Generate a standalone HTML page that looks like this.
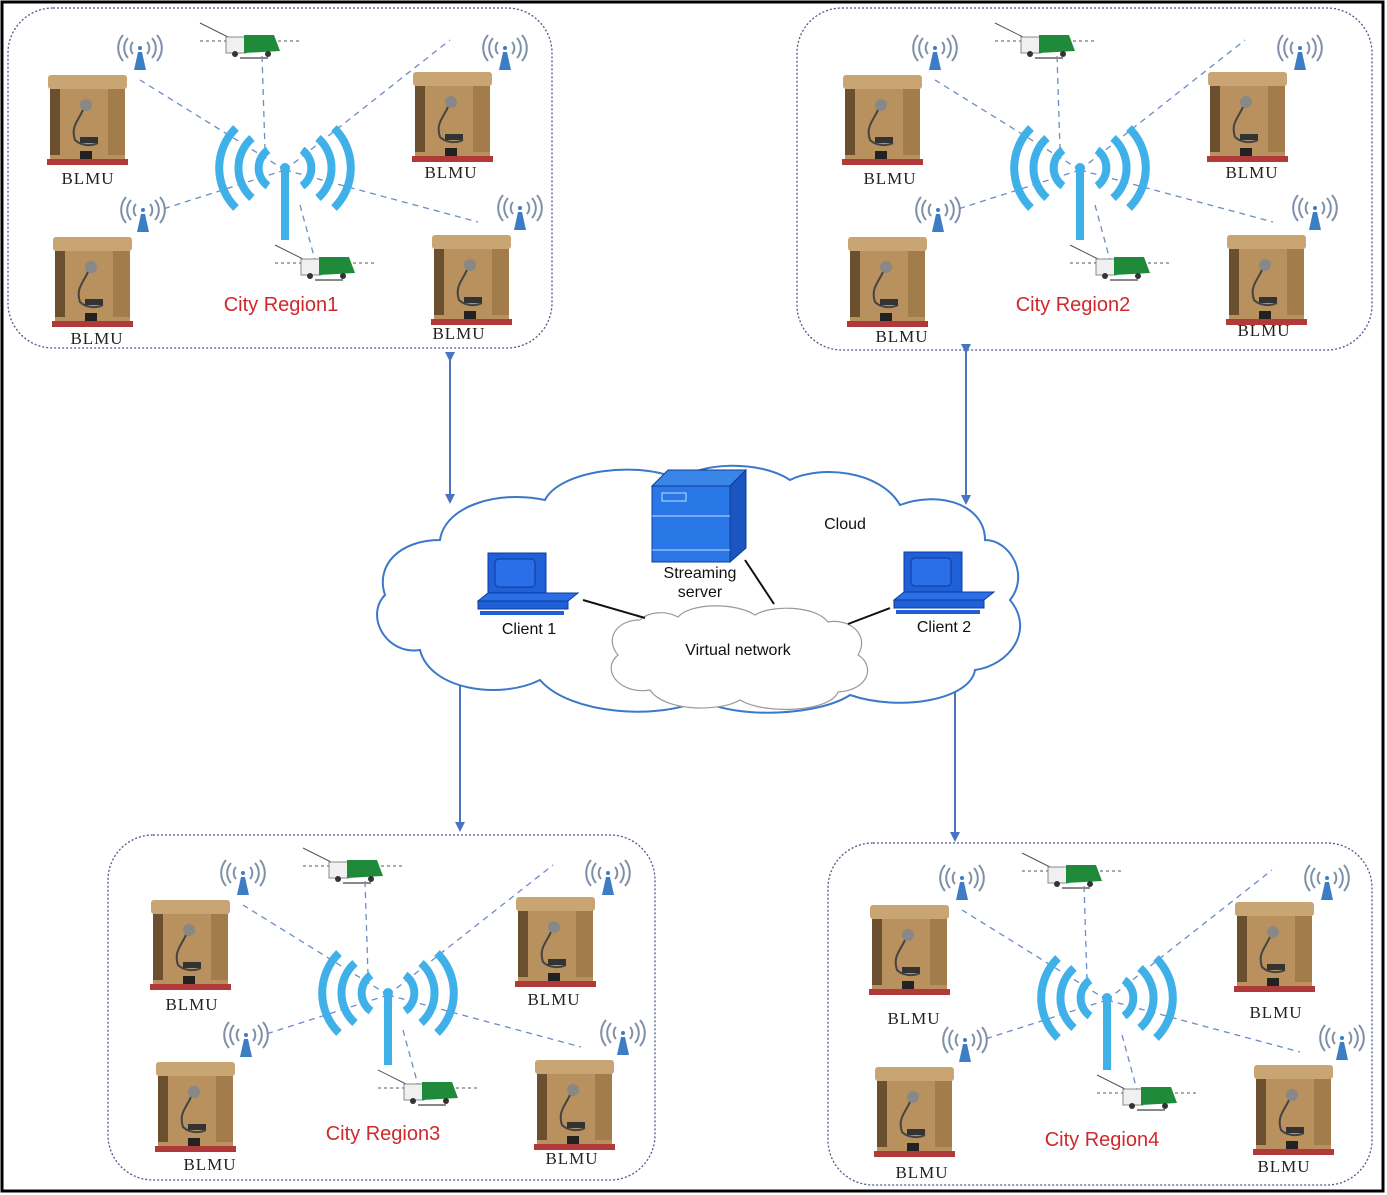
<!DOCTYPE html>
<html><head><meta charset="utf-8"><style>
html,body{margin:0;padding:0;background:#fff;}
svg{display:block;}
text{font-family:"Liberation Serif",serif;}
.lbl{font-family:"Liberation Serif",serif;font-size:17px;fill:#222;letter-spacing:1px;}
.reg{font-family:"Liberation Sans",sans-serif;font-size:20px;fill:#d0282c;}
.cl{font-family:"Liberation Sans",sans-serif;font-size:16px;fill:#111;}
</style></head><body>
<svg width="1387" height="1195" viewBox="0 0 1387 1195" xmlns="http://www.w3.org/2000/svg">
<defs>
  <marker id="ah" markerWidth="10" markerHeight="10" refX="8" refY="5" orient="auto" markerUnits="userSpaceOnUse">
    <path d="M0,0 L10,5 L0,10 z" fill="#4a74c0"/>
  </marker>
  <g id="bin">
    <rect x="0" y="8" width="75" height="76" fill="#b8915e"/>
    <rect x="-2" y="0" width="79" height="14" rx="3" fill="#c9a574"/>
    <rect x="0" y="14" width="10" height="66" fill="#6b5030"/>
    <rect x="58" y="14" width="17" height="66" fill="#a37c4c"/>
    <path d="M35,30 C30,45 20,50 25,65 C30,70 40,72 48,68" stroke="#444" stroke-width="2" fill="none"/>
    <circle cx="36" cy="30" r="6" fill="#888"/>
    <rect x="30" y="62" width="18" height="6" fill="#333"/>
    <rect x="30" y="76" width="12" height="8" fill="#222"/>
    <rect x="-3" y="84" width="81" height="6" fill="#b03a3a"/>
  </g>
  <g id="ant">
    <path d="M-6,12 L6,12 L2,-6 L-2,-6 z" fill="#3d7dc4"/>
    <circle cx="0" cy="-10" r="2" fill="#3d7dc4"/>
    <path d="M-7,-16 A9,9 0 0 0 -7,-4 M7,-16 A9,9 0 0 1 7,-4 M-12,-20 A15,15 0 0 0 -12,0 M12,-20 A15,15 0 0 1 12,0 M-17,-23 A20,20 0 0 0 -17,3 M17,-23 A20,20 0 0 1 17,3" stroke="#7e8fa8" stroke-width="2" fill="none"/>
  </g>
  <g id="truck">
    <line x1="-40" y1="-20" x2="-10" y2="-5" stroke="#555"/>
    <line x1="-40" y1="-2" x2="60" y2="-2" stroke="#555" stroke-dasharray="3,3"/>
    <rect x="-14" y="-6" width="20" height="16" fill="#f0f0f0" stroke="#888"/>
    <path d="M4,-8 L34,-8 L40,8 L4,10 z" fill="#1f8a3a"/>
    <circle cx="-5" cy="11" r="3" fill="#333"/><circle cx="28" cy="11" r="3" fill="#333"/>
    <rect x="0" y="14" width="28" height="2" fill="#888"/>
  </g>
  <g id="region">
    <g stroke="#6b8cc4" stroke-width="1.3" stroke-dasharray="6,5" fill="none">
      <line x1="285" y1="170" x2="140" y2="80"/>
      <line x1="285" y1="170" x2="450" y2="40"/>
      <line x1="285" y1="170" x2="160" y2="210"/>
      <line x1="285" y1="170" x2="478" y2="222"/>
      <line x1="265" y1="150" x2="262" y2="55"/>
      <line x1="300" y1="205" x2="315" y2="260"/>
    </g>
    <use href="#bin" x="50" y="75"/>
    <use href="#bin" x="415" y="72"/>
    <use href="#bin" x="55" y="237"/>
    <use href="#bin" x="434" y="235"/>
    <use href="#ant" x="140" y="58"/>
    <use href="#ant" x="505" y="58"/>
    <use href="#ant" x="143" y="220"/>
    <use href="#ant" x="520" y="218"/>
    <use href="#truck" x="240" y="43"/>
    <use href="#truck" x="315" y="265"/>
    <rect x="281" y="170" width="8" height="70" fill="#3fb0e8"/>
    <circle cx="285" cy="168" r="5" fill="#3fb0e8"/>
    <g stroke="#3fb0e8" stroke-width="8" fill="none">
      <path d="M268,150 A22,22 0 0 0 268,186"/>
      <path d="M302,150 A22,22 0 0 1 302,186"/>
      <path d="M252,138 A40,40 0 0 0 252,198"/>
      <path d="M318,138 A40,40 0 0 1 318,198"/>
      <path d="M236,128 A56,56 0 0 0 236,208"/>
      <path d="M334,128 A56,56 0 0 1 334,208"/>
    </g>
  </g>
  <g id="pc">
    <rect x="10" y="0" width="58" height="40" fill="#1f5fd8" stroke="#0d3c9a"/>
    <rect x="17" y="6" width="40" height="28" rx="4" fill="#2a6ee8" stroke="#0d3c9a"/>
    <path d="M0,48 L90,48 L100,40 L10,40 z" fill="#2a6ee8" stroke="#0d3c9a"/>
    <rect x="0" y="48" width="90" height="8" fill="#1f5fd8" stroke="#0d3c9a"/>
    <rect x="2" y="58" width="84" height="4" fill="#1f5fd8"/>
  </g>
</defs>

<rect x="2" y="2" width="1381" height="1189" fill="#fff" stroke="#000" stroke-width="3"/>

<!-- region boxes -->
<g fill="none" stroke="#4a5a8a" stroke-width="1.3" stroke-dasharray="2,2">
  <rect x="8" y="8" width="544" height="340" rx="45"/>
  <rect x="797" y="8" width="575" height="342" rx="45"/>
  <rect x="108" y="835" width="547" height="345" rx="45"/>
  <rect x="828" y="843" width="544" height="342" rx="45"/>
</g>

<use href="#region"/>
<use href="#region" transform="translate(795,0)"/>
<use href="#region" transform="translate(103,825)"/>
<use href="#region" transform="translate(822,830)"/>

<!-- labels -->
<text class="lbl" x="88" y="184" text-anchor="middle">BLMU</text>
<text class="lbl" x="451" y="178" text-anchor="middle">BLMU</text>
<text class="lbl" x="97" y="344" text-anchor="middle">BLMU</text>
<text class="lbl" x="459" y="339" text-anchor="middle">BLMU</text>
<text class="reg" x="281" y="311" text-anchor="middle">City Region1</text>

<text class="lbl" x="890" y="184" text-anchor="middle">BLMU</text>
<text class="lbl" x="1252" y="178" text-anchor="middle">BLMU</text>
<text class="lbl" x="902" y="342" text-anchor="middle">BLMU</text>
<text class="lbl" x="1264" y="336" text-anchor="middle">BLMU</text>
<text class="reg" x="1073" y="311" text-anchor="middle">City Region2</text>

<text class="lbl" x="192" y="1010" text-anchor="middle">BLMU</text>
<text class="lbl" x="554" y="1005" text-anchor="middle">BLMU</text>
<text class="lbl" x="210" y="1170" text-anchor="middle">BLMU</text>
<text class="lbl" x="572" y="1164" text-anchor="middle">BLMU</text>
<text class="reg" x="383" y="1140" text-anchor="middle">City Region3</text>

<text class="lbl" x="914" y="1024" text-anchor="middle">BLMU</text>
<text class="lbl" x="1276" y="1018" text-anchor="middle">BLMU</text>
<text class="lbl" x="922" y="1178" text-anchor="middle">BLMU</text>
<text class="lbl" x="1284" y="1172" text-anchor="middle">BLMU</text>
<text class="reg" x="1102" y="1146" text-anchor="middle">City Region4</text>

<!-- arrows -->
<g stroke="#4a74c0" stroke-width="2">
  <line x1="450" y1="360" x2="450" y2="502" marker-start="url(#ah)" marker-end="url(#ah)"/>
  <line x1="966" y1="352" x2="966" y2="503" marker-start="url(#ah)" marker-end="url(#ah)"/>
  <line x1="460" y1="680" x2="460" y2="830" marker-start="url(#ah)" marker-end="url(#ah)"/>
  <line x1="955" y1="688" x2="955" y2="840" marker-start="url(#ah)" marker-end="url(#ah)"/>
</g>

<!-- cloud -->
<path d="M440,540 C400,540 375,565 385,595 C365,615 385,655 420,650 C430,690 500,700 540,680 C570,715 660,720 700,700 C740,720 820,715 850,695 C900,712 970,700 975,670 C1010,665 1035,630 1010,600 C1030,575 1010,540 985,540 C985,505 940,490 900,505 C880,470 820,465 790,480 C760,460 700,462 680,480 C640,460 560,470 545,500 C500,490 445,505 440,540 z" fill="#fff" stroke="#3a78c8" stroke-width="2"/>
<path d="M640,620 C615,620 605,640 618,655 C600,670 620,695 650,690 C665,712 720,712 740,700 C765,715 830,712 838,692 C870,690 875,665 858,655 C870,635 850,618 828,622 C815,605 770,605 755,615 C735,602 690,603 678,617 C665,610 648,612 640,620 z" fill="#fff" stroke="#999" stroke-width="1.2"/>
<g stroke="#111" stroke-width="2">
  <line x1="583" y1="600" x2="645" y2="618"/>
  <line x1="745" y1="560" x2="774" y2="604"/>
  <line x1="848" y1="624" x2="890" y2="608"/>
</g>
<!-- server -->
<path d="M652,486 L730,486 L746,470 L668,470 z" fill="#3a86e8" stroke="#0d3c9a"/>
<path d="M730,486 L746,470 L746,548 L730,562 z" fill="#1a55c0" stroke="#0d3c9a"/>
<rect x="652" y="486" width="78" height="76" fill="#2a78e8" stroke="#0d3c9a"/>
<rect x="662" y="493" width="24" height="8" fill="none" stroke="#bfe0ff"/>
<line x1="652" y1="516" x2="730" y2="516" stroke="#bfe0ff"/>
<line x1="652" y1="550" x2="730" y2="550" stroke="#bfe0ff"/>
<use href="#pc" x="478" y="553"/>
<use href="#pc" x="894" y="552"/>
<text class="cl" x="700" y="578" text-anchor="middle">Streaming</text>
<text class="cl" x="700" y="597" text-anchor="middle">server</text>
<text class="cl" x="845" y="529" text-anchor="middle">Cloud</text>
<text class="cl" x="529" y="634" text-anchor="middle">Client 1</text>
<text class="cl" x="944" y="632" text-anchor="middle">Client 2</text>
<text class="cl" x="738" y="655" text-anchor="middle">Virtual network</text>
</svg>
</body></html>
